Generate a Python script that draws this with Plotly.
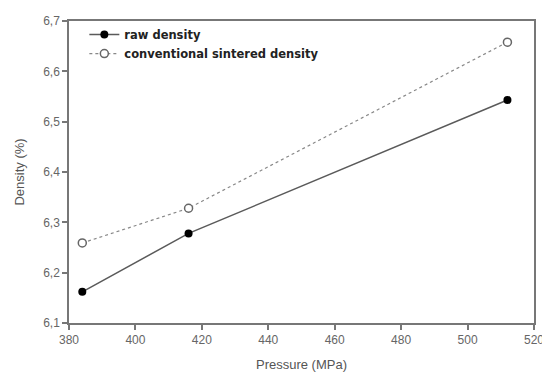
import plotly.graph_objects as go

pressure = [384, 416, 512]
raw_density = [6.162, 6.278, 6.543]
sintered_density = [6.259, 6.328, 6.658]
x_ticks = [380, 400, 420, 440, 460, 480, 500, 520]
y_ticks = [6.1, 6.2, 6.3, 6.4, 6.5, 6.6, 6.7]
y_tick_labels = ["6,1", "6,2", "6,3", "6,4", "6,5", "6,6", "6,7"]

fig = go.Figure()
fig.add_trace(go.Scatter(
    x=pressure, y=raw_density, mode="lines+markers", name="raw density",
    line=dict(color="#5a5a5a", width=1.5),
    marker=dict(color="black", size=8, symbol="circle"),
))
fig.add_trace(go.Scatter(
    x=pressure, y=sintered_density, mode="lines+markers", name="conventional sintered density",
    line=dict(color="#888888", width=1.2, dash="dot"),
    marker=dict(color="white", size=8, symbol="circle", line=dict(color="#666666", width=1.5)),
))

axis_common = dict(
    showline=True, linecolor="#777777", linewidth=1.5, mirror=True,
    ticks="outside", tickcolor="#777777", ticklen=5, tickwidth=1.5,
    showgrid=False, zeroline=False, ticklabeloverflow="allow",
    tickfont=dict(family="Liberation Sans, Arial", size=12, color="#666666"),
)
fig.update_xaxes(range=[380, 520], tickvals=x_ticks,
                 title=dict(text="Pressure (MPa)", font=dict(family="Liberation Sans, Arial", size=13, color="#555555"), standoff=14),
                 **axis_common)
fig.update_yaxes(range=[6.1, 6.7], tickvals=y_ticks, ticktext=y_tick_labels,
                 title=dict(text="Density (%)", font=dict(family="Liberation Sans, Arial", size=13, color="#555555"), standoff=16),
                 **axis_common)

# the page body adds an 8px margin, so the figure is sized to 542x368
fig.update_layout(
    width=542, height=368,
    margin=dict(l=61, r=10, t=6, b=51),
    paper_bgcolor="white", plot_bgcolor="white",
    showlegend=True,
    legend=dict(x=0.033, y=1.003, xanchor="left", yanchor="top",
                bgcolor="rgba(0,0,0,0)", tracegroupgap=0, itemwidth=30,
                font=dict(family="DejaVu Sans", size=11.5, color="#222222", weight="bold")),
)
fig.write_html("out.html")
